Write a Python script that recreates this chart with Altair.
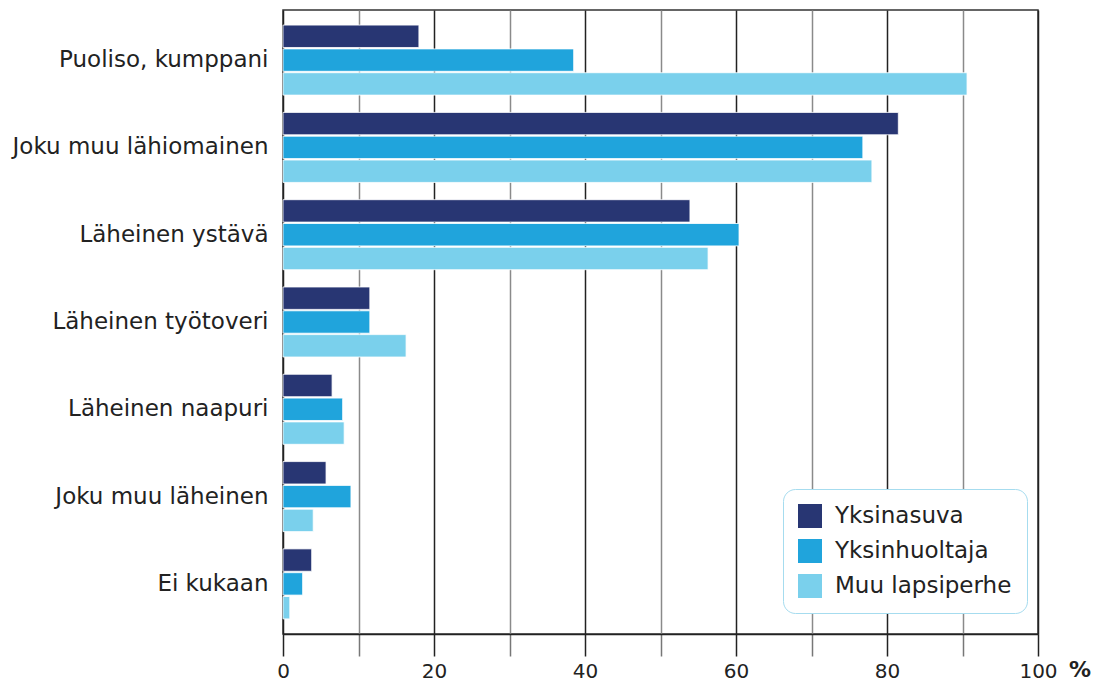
import altair as alt
import pandas as pd

categories = ["Puoliso, kumppani", "Joku muu lähiomainen", "Läheinen ystävä",
              "Läheinen työtoveri", "Läheinen naapuri", "Joku muu läheinen", "Ei kukaan"]
series = ["Yksinasuva", "Yksinhuoltaja", "Muu lapsiperhe"]
yksinasuva = [18.0, 81.5, 53.9, 11.5, 6.5, 5.7, 3.8]
yksinhuoltaja = [38.5, 76.8, 60.4, 11.5, 7.9, 9.0, 2.6]
muu_lapsiperhe = [90.6, 78.0, 56.3, 16.3, 8.1, 4.0, 0.9]
colors = ["#283673", "#20a4dc", "#7ad0ec"]
x_ticks = list(range(0, 101, 10))

rows = []
for s, vals in zip(series, [yksinasuva, yksinhuoltaja, muu_lapsiperhe]):
    for c, v in zip(categories, vals):
        rows.append({"category": c, "series": s, "value": v})
df = pd.DataFrame(rows)

W, H = 755, 624
xscale = alt.Scale(domain=[0, 100], nice=False, zero=True)
xaxis = alt.Axis(values=x_ticks, tickSize=22, tickWidth=1.5,
                 tickColor={"condition": {"test": "datum.value % 20 === 0", "value": "#222222"}, "value": "#777777"},
                 grid=True, gridWidth=1.5,
                 gridColor={"condition": {"test": "datum.value % 20 === 0", "value": "#222222"}, "value": "#8a8a8a"},
                 labelExpr="datum.value % 20 === 0 ? datum.label : ''",
                 labelFont="DejaVu Sans", labelFontSize=20, labelColor="#222222",
                 labelFlush=False, labelOverlap=False,
                 labelPadding=5, domainColor="#222222", domainWidth=1.5, title=None)

bars = alt.Chart(df).mark_bar(stroke="white", strokeWidth=0.8).encode(
    x=alt.X("value:Q", scale=xscale, title=None, axis=xaxis),
    y=alt.Y("category:N", sort=categories, title=None,
            scale=alt.Scale(paddingInner=0.198, paddingOuter=0.173),
            axis=alt.Axis(ticks=False, domain=False, labelFont="DejaVu Sans", labelFontSize=23,
                          labelColor="#222222", labelPadding=15, labelLimit=400)),
    yOffset=alt.YOffset("series:N", sort=series,
                        scale=alt.Scale(paddingInner=0.06, paddingOuter=0)),
    color=alt.Color("series:N", sort=series,
                    scale=alt.Scale(domain=series, range=colors),
                    legend=alt.Legend(title=None, orient="none", legendX=500, legendY=479,
                                      symbolType="square", symbolSize=576, symbolStrokeWidth=0,
                                      labelFont="DejaVu Sans", labelFontSize=23, labelColor="#222222",
                                      labelOffset=13, rowPadding=11, padding=15, labelLimit=400,
                                      strokeColor="#a6dcef", fillColor="white", cornerRadius=12)),
)

pct = alt.Chart(pd.DataFrame({"x": [100]})).mark_text(
    text="%", fontWeight="bold", fontSize=22, font="DejaVu Sans", align="left",
    baseline="middle", dx=31, color="#222222"
).encode(x=alt.X("x:Q", scale=xscale, title=None, axis=xaxis), y=alt.value(H + 36))

chart = alt.layer(bars, pct).properties(
    width=W, height=H, autosize="none",
    padding={"left": 275, "top": 2, "right": 63, "bottom": 48}
).configure_view(stroke="#333333", strokeWidth=1.5)

chart.save("out.html", embed_options={"renderer": "svg", "actions": False})
